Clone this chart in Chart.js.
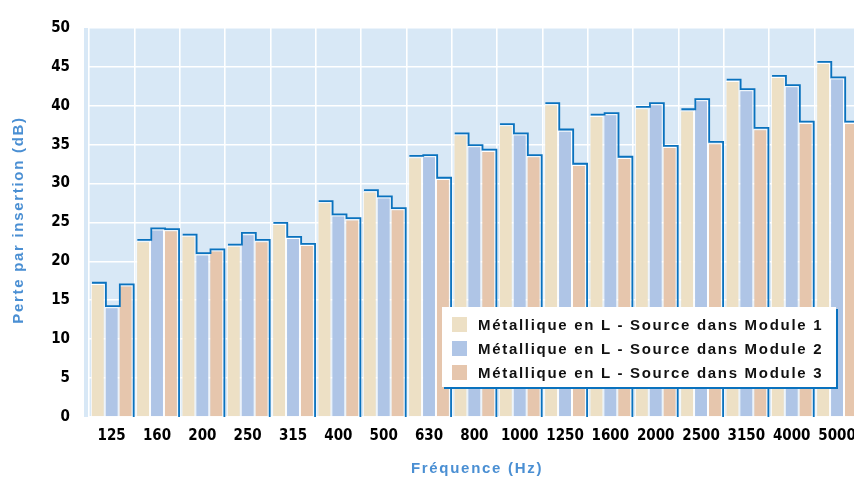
<!DOCTYPE html>
<html>
<head>
<meta charset="utf-8">
<script src="https://cdn.jsdelivr.net/npm/chart.js@4.4.0/dist/chart.umd.min.js"></script>
<style>
    html, body { margin: 0; padding: 0; background: #fff; overflow: hidden; }
    #wrap { position: relative; width: 866px; height: 479px; }
    #legend {
        position: absolute; left: 442px; top: 307px; width: 394px; height: 80px;
        background: #fff; box-shadow: 2px 2px 0 #0a72be;
        font: bold 15px "Liberation Sans", Arial, sans-serif; letter-spacing: 1.7px; color: #111;
    }
    .row { position: absolute; left: 10px; height: 16px; display: flex; align-items: center; }
    .sw { width: 15px; height: 15px; margin-right: 11px; }
</style>
</head>
<body>
<div id="wrap">
    <canvas id="chart" width="866" height="479"></canvas>
    <div id="legend"></div>
</div>
<script>
const frequencies = ["125", "160", "200", "250", "315", "400", "500", "630", "800", "1000", "1250", "1600", "2000", "2500", "3150", "4000", "5000"];
const module1 = [17.1, 22.6, 23.3, 22.0, 24.8, 27.6, 29.0, 33.4, 36.3, 37.5, 40.2, 38.7, 39.7, 39.4, 43.2, 43.7, 45.5];
const module2 = [14.1, 24.1, 20.9, 23.5, 23.0, 25.9, 28.2, 33.5, 34.8, 36.3, 36.8, 38.9, 40.2, 40.7, 42.0, 42.5, 43.5];
const module3 = [16.9, 24.0, 21.4, 22.6, 22.1, 25.4, 26.7, 30.6, 34.2, 33.5, 32.4, 33.3, 34.7, 35.2, 37.0, 37.8, 37.8];
const seriesNames = [
    "Métallique en L - Source dans Module 1",
    "Métallique en L - Source dans Module 2",
    "Métallique en L - Source dans Module 3"
];
const yTicks = [0, 5, 10, 15, 20, 25, 30, 35, 40, 45, 50];

const colors = ["#ede0c5", "#afc5e6", "#e6c6ad"];
const outline = "#0a72be";
const titleColor = "#4a8fd3";
const tickFont = { family: "'Liberation Sans Narrow', 'DejaVu Sans Condensed', Arial", size: 15, weight: "bold" };

// light blue plot background, a bit wider than the category area
const bgPlugin = {
    id: "bg",
    beforeDraw(chart) {
        const a = chart.chartArea;
        const ctx = chart.ctx;
        ctx.save();
        ctx.fillStyle = "#d8e8f6";
        ctx.fillRect(a.left - 5, a.top, a.right - a.left + 5, a.bottom - a.top);
        ctx.restore();
    }
};

// blue step line along the top and right of every group of three bars
const stepPlugin = {
    id: "step",
    afterDatasetsDraw(chart) {
        const ctx = chart.ctx;
        const metas = [0, 1, 2].map(i => chart.getDatasetMeta(i));
        const base = chart.scales.y.getPixelForValue(0);
        const off = 1.2;
        ctx.save();
        ctx.strokeStyle = outline;
        ctx.lineWidth = 1.8;
        for (let k = 0; k < frequencies.length; k++) {
            const bars = metas.map(m => m.data[k]);
            ctx.beginPath();
            bars.forEach((b, i) => {
                const left = b.x - b.width / 2;
                const right = b.x + b.width / 2;
                if (i === 0) ctx.moveTo(left + off, b.y - off);
                else ctx.lineTo(left + off, b.y - off);
                ctx.lineTo(right + off, b.y - off);
                if (i === bars.length - 1) ctx.lineTo(right + off, base);
            });
            ctx.stroke();
        }
        ctx.restore();
    }
};

// axis titles, letter spaced
const titlePlugin = {
    id: "titles",
    afterDraw(chart) {
        const ctx = chart.ctx;
        ctx.save();
        ctx.fillStyle = titleColor;
        ctx.font = "bold 15px 'Liberation Sans', Arial, sans-serif";
        ctx.letterSpacing = "1.7px";
        ctx.textAlign = "center";
        ctx.textBaseline = "middle";
        ctx.fillText("Fréquence (Hz)", 477, 469);
        ctx.translate(19, 220);
        ctx.rotate(-Math.PI / 2);
        ctx.fillText("Perte par insertion (dB)", 0, 0);
        ctx.restore();
    }
};

const ctx = document.getElementById("chart");

const chart = new Chart(ctx, {
    type: "bar",
    data: {
        labels: frequencies,
        datasets: [module1, module2, module3].map((d, i) => ({
            label: seriesNames[i],
            data: d,
            backgroundColor: colors[i],
            borderColor: "#ffffff",
            borderWidth: 1,
            categoryPercentage: 0.92,
            barPercentage: 1.0
        }))
    },
    options: {
        responsive: false,
        animation: false,
        layout: { padding: { top: 24, left: 0, right: 6, bottom: 0 } },
        plugins: {
            legend: { display: false },
            tooltip: { enabled: false }
        },
        scales: {
            x: {
                grid: { color: "#ffffff", lineWidth: 1.6, drawTicks: false, offset: true },
                border: { display: false },
                ticks: {
                    color: "#000",
                    padding: 10,
                    autoSkip: false,
                    maxRotation: 0,
                    minRotation: 0,
                    font: tickFont
                },
                afterFit(scale) { scale.height = 62; }
            },
            y: {
                min: 0,
                max: 50,
                afterBuildTicks(scale) { scale.ticks = yTicks.map(v => ({ value: v })); },
                grid: { color: "#ffffff", lineWidth: 1.6, drawTicks: false },
                border: { display: false },
                ticks: {
                    color: "#000",
                    padding: 19,
                    font: tickFont
                },
                afterFit(scale) { scale.width = 89; }
            }
        }
    },
    plugins: [bgPlugin, stepPlugin, titlePlugin]
});

// legend built from the chart's datasets
const legend = document.getElementById("legend");
chart.data.datasets.forEach((ds, i) => {
    const row = document.createElement("div");
    row.className = "row";
    row.style.top = (9 + i * 24) + "px";
    const sw = document.createElement("span");
    sw.className = "sw";
    sw.style.background = ds.backgroundColor;
    const txt = document.createElement("span");
    txt.textContent = ds.label;
    row.appendChild(sw);
    row.appendChild(txt);
    legend.appendChild(row);
});
</script>
</body>
</html>
